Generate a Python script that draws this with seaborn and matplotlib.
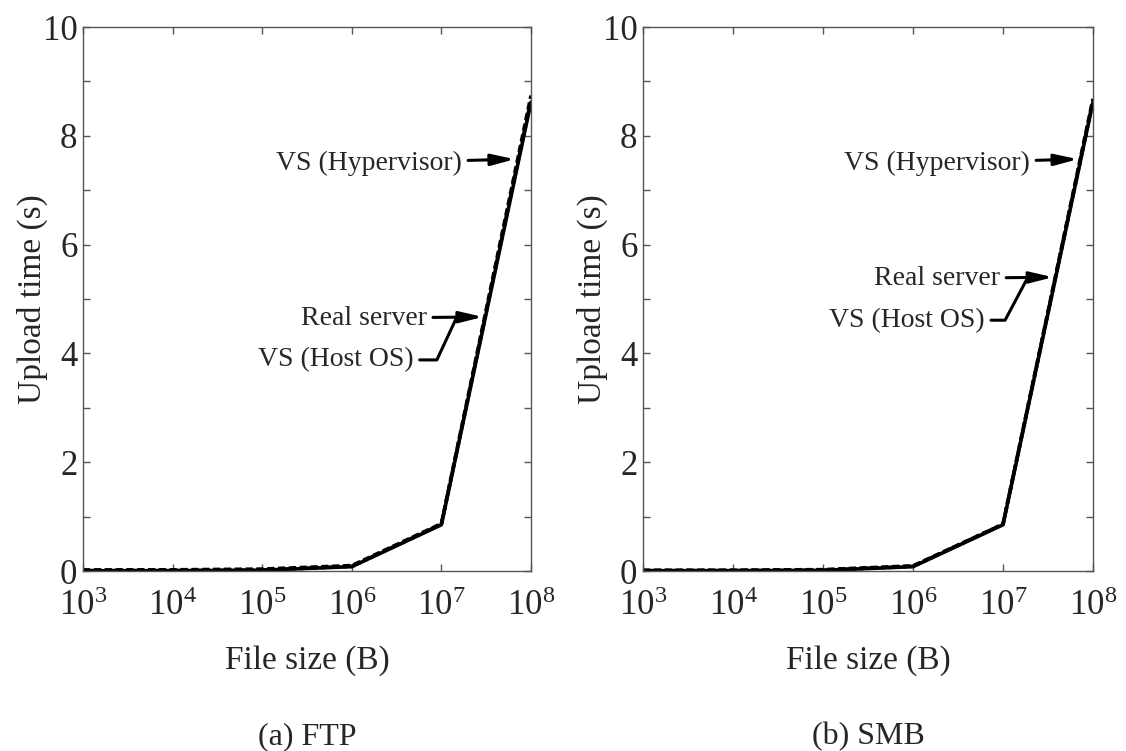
import numpy as np
import pandas as pd
import matplotlib
matplotlib.use("Agg")
import matplotlib.pyplot as plt
from matplotlib.ticker import MultipleLocator, LogLocator, NullLocator
import seaborn as sns

# ---------------- data ----------------
file_size = [1e3, 1e4, 1e5, 1e6, 1e7, 1e8]
series_names = ["Real server", "VS (Host OS)", "VS (Hypervisor)"]

ftp_real = [0.005, 0.006, 0.015, 0.08, 0.85, 8.62]
ftp_host = [0.006, 0.007, 0.017, 0.085, 0.86, 8.66]
ftp_hyp = [0.02, 0.022, 0.035, 0.10, 0.87, 8.74]

smb_real = [0.005, 0.006, 0.012, 0.08, 0.85, 8.62]
smb_host = [0.006, 0.007, 0.014, 0.085, 0.86, 8.64]
smb_hyp = [0.015, 0.016, 0.025, 0.095, 0.86, 8.68]

captions = ["(a) FTP", "(b) SMB"]
x_label = "File size (B)"
y_label = "Upload time (s)"


def make_df(real, host, hyp):
    rows = []
    for name, vals in zip(series_names, [real, host, hyp]):
        for x, y in zip(file_size, vals):
            rows.append({"size": x, "time": y, "series": name})
    return pd.DataFrame(rows)


df_ftp = make_df(ftp_real, ftp_host, ftp_hyp)
df_smb = make_df(smb_real, smb_host, smb_hyp)

# ---------------- style ----------------
sns.set_style("ticks")
plt.rcParams["font.family"] = ["Liberation Serif", "DejaVu Serif"]
plt.rcParams["mathtext.fontset"] = "custom"
plt.rcParams["mathtext.rm"] = "Liberation Serif"
plt.rcParams["mathtext.it"] = "Liberation Serif:italic"
plt.rcParams["mathtext.bf"] = "Liberation Serif:bold"

fig = plt.figure(figsize=(11.26, 7.51), dpi=100)
W, H = 1126, 751
ax_boxes = [
    (83 / W, 1 - 571 / H, (531 - 83) / W, (571 - 27) / H),
    (643 / W, 1 - 571 / H, (1093 - 643) / W, (571 - 27) / H),
]

palette = {n: "black" for n in series_names}
dashes = {"Real server": "", "VS (Host OS)": (1.2, 0.8), "VS (Hypervisor)": (2.0, 1.0)}

# annotation layout (data coords): (text xy, arrow target)
annots = [
    {
        "hyp": ((1.7e7, 7.50), (6.6e7, 7.57)),
        "real": ((6.9e6, 4.65), (2.9e7, 4.67)),
        "host": ((4.9e6, 3.88), (1.45e7, 4.63), 65),
    },
    {
        "hyp": ((2.0e7, 7.50), (6.8e7, 7.57)),
        "real": ((9.3e6, 5.38), (3.6e7, 5.40)),
        "host": ((6.3e6, 4.61), (1.85e7, 5.37), 62),
    },
]

spine_color = "#555555"

for i, df in enumerate([df_ftp, df_smb]):
    ax = fig.add_axes(ax_boxes[i])
    sns.lineplot(
        data=df, x="size", y="time", hue="series", style="series",
        palette=palette, dashes=dashes, linewidth=2.6, ax=ax, legend=False,
        hue_order=series_names[::-1], style_order=series_names[::-1],
    )
    ax.set_xscale("log")
    ax.set_xlim(1e3, 1e8)
    ax.set_ylim(0, 10)
    ax.xaxis.set_major_locator(LogLocator(base=10, numticks=10))
    ax.xaxis.set_minor_locator(NullLocator())
    ax.yaxis.set_major_locator(MultipleLocator(2))
    ax.yaxis.set_minor_locator(MultipleLocator(1))
    ax.tick_params(axis="both", which="both", direction="in", top=True, right=True,
                   color=spine_color, width=1.0)
    ax.tick_params(axis="both", which="major", length=5, labelsize=25)
    ax.tick_params(axis="y", which="minor", length=5)
    ax.tick_params(axis="y", which="major", pad=4)
    ax.tick_params(axis="x", which="major", pad=14)
    for sp in ax.spines.values():
        sp.set_visible(True)
        sp.set_color(spine_color)
        sp.set_linewidth(1.0)
    ax.set_xlabel(x_label, fontsize=24, labelpad=16)
    ax.set_ylabel(y_label, fontsize=24, labelpad=-4)

    a = annots[i]
    arrow_kw = dict(arrowstyle="-|>,head_length=0.7,head_width=0.17", color="black",
                    lw=2.2, shrinkA=2, shrinkB=0)
    t, p = a["hyp"]
    ax.annotate("VS (Hypervisor)", xy=p, xytext=t, ha="right", va="center",
                fontsize=20, arrowprops=arrow_kw)
    t, p = a["real"]
    ax.annotate("Real server", xy=p, xytext=t, ha="right", va="center",
                fontsize=20, arrowprops=arrow_kw)
    t, p, ang = a["host"]
    ax.annotate("VS (Host OS)", xy=p, xytext=t, ha="right", va="center",
                fontsize=20,
                arrowprops=dict(arrowstyle="-", color="black", lw=2.2, shrinkA=2, shrinkB=0,
                                connectionstyle=f"angle,angleA=0,angleB={ang},rad=0"))

    x0, y0, w, h = ax_boxes[i]
    fig.text(x0 + w / 2, 1 - 737 / H, captions[i], ha="center", va="center", fontsize=23)

fig.savefig("out.png", dpi=100)
